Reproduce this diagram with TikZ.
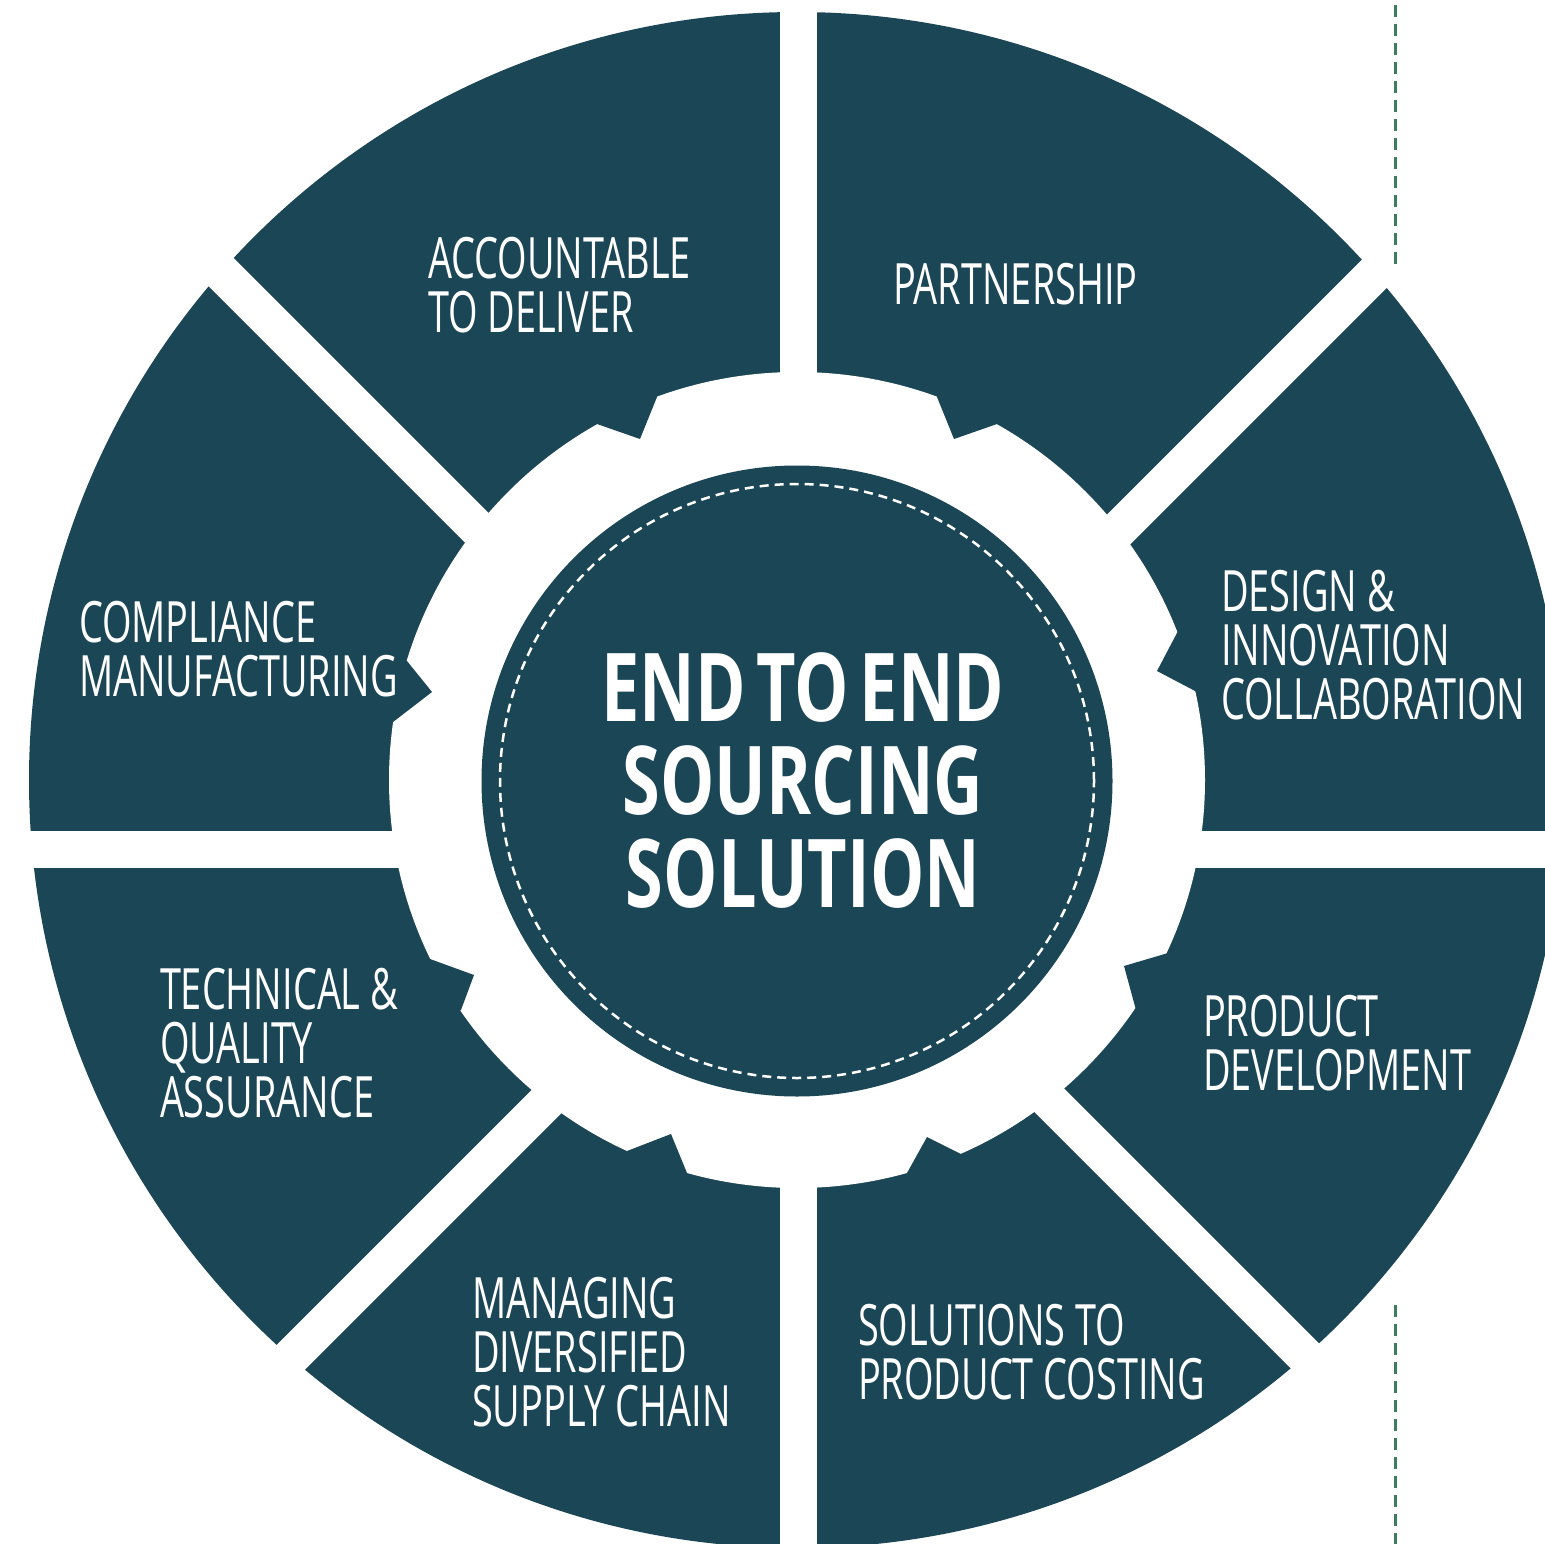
\documentclass[tikz,border=0pt]{standalone}
\usepackage{fontspec}
\usetikzlibrary{calc}
\newfontfamily\labelfont{Open Sans}[FakeStretch=0.665]
\newfontfamily\titlefont{Open Sans}[FakeStretch=0.72, WordSpace=0.6]
\definecolor{teal}{RGB}{27,70,85}
\definecolor{dashgreen}{RGB}{62,125,92}
\tikzset{
  sector/.style={fill=teal},
  gapstrip/.style={draw=white, line width=37.5pt},
  lbl/.style={text=white, inner sep=0pt, outer sep=0pt, anchor=north west, align=left,
    font=\labelfont\fontsize{57}{54}\selectfont},
  ttl/.style={text=white, inner sep=0pt, outer sep=0pt, anchor=north, align=center,
    font=\titlefont\bfseries\fontsize{95}{93}\selectfont},
  guide/.style={draw=dashgreen, line width=3pt, dash pattern=on 12pt off 7pt}
}
\begin{document}
\begin{tikzpicture}[x=1pt,y=-1pt]
\useasboundingbox (0,0) rectangle (1545,1544);
\clip (0,0) rectangle (1545,1544);
\coordinate (O) at (797,780);
\coordinate (G) at (798.5,849.5);
\coordinate (C) at (797,781);
% outer ring
\fill[sector] (O) circle[radius=768pt];
\fill[white] (O) circle[radius=408pt];
% gear notches (sector teeth reaching inward)
\foreach \a/\p/\b in {
  {657,397}/{640,439}/{597,424},
  {937,397}/{954,439}/{997,424},
  {1178,631}/{1157,671}/{1197,692},
  {1168,953}/{1124,966}/{1136,1010},
  {961,1154}/{927,1137}/{907,1173},
  {687,1173}/{671,1134}/{627,1151},
  {461,1010}/{474,975}/{430,959},
  {393,722}/{432,692}/{407,661}}{
  \coordinate (na) at (\a);
  \coordinate (np) at (\p);
  \coordinate (nb) at (\b);
  \fill[sector] (na) -- (np) -- (nb) -- ($(O)!1.04!(nb)$) -- ($(O)!1.04!(na)$) -- cycle;
}
% white gaps between sectors
\draw[gapstrip] ($(G)+(-900,0)$) -- ($(G)+(900,0)$);
\draw[gapstrip] ($(G)+(0,-900)$) -- ($(G)+(0,900)$);
\draw[gapstrip] ($(G)+(-900,-900)$) -- ($(G)+(900,900)$);
\draw[gapstrip] ($(G)+(-900,900)$) -- ($(G)+(900,-900)$);
% centre disc
\fill[sector] (C) circle[radius=315.5pt];
\draw[white, line width=2.5pt, dash pattern=on 9pt off 6pt] (C) circle[radius=297pt];
% texts
\node[ttl] (title) at (803,653) {END TO END\\SOURCING\\SOLUTION};
\node[lbl] (acc) at (428,237) {ACCOUNTABLE\\TO DELIVER};
\node[lbl] (part) at (893,263) {PARTNERSHIP};
\node[lbl] (des) at (1221,570) {DESIGN \&\\INNOVATION\\COLLABORATION};
\node[lbl] (prod) at (1203,995) {PRODUCT\\DEVELOPMENT};
\node[lbl] (sol) at (858,1304) {SOLUTIONS TO\\PRODUCT COSTING};
\node[lbl] (man) at (472,1277) {MANAGING\\DIVERSIFIED\\SUPPLY CHAIN};
\node[lbl] (tech) at (160,968) {TECHNICAL \&\\QUALITY\\ASSURANCE};
\node[lbl] (comp) at (79,601) {COMPLIANCE\\MANUFACTURING};
% dashed guide line
\coordinate (g1) at (1395,5);
\coordinate (g2) at (1395,267);
\coordinate (g3) at (1395,1305);
\coordinate (g4) at (1395,1544);
\draw[guide] (g1) -- (g2);
\draw[guide] (g3) -- (g4);
\end{tikzpicture}
\end{document}
